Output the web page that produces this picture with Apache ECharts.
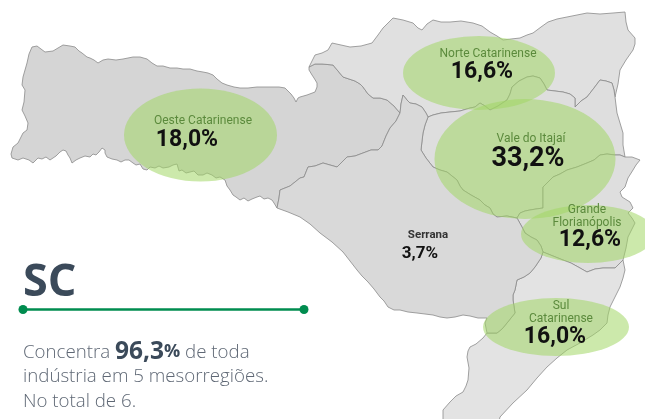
<!DOCTYPE html>
<html><head><meta charset="utf-8">
<style>html,body{margin:0;padding:0;background:#fff}#c{width:645px;height:419px}</style>
<script src="https://cdn.jsdelivr.net/npm/echarts@6/dist/echarts.min.js"></script>
</head><body><div id="c"></div>
<script>
// Data
const regionNames = ['Oeste Catarinense','Norte Catarinense','Vale do Itajaí','Grande\nFlorianópolis','Sul\nCatarinense','Serrana'];
const shareLabels = ['18,0%','16,6%','33,2%','12,6%','16,0%','3,7%'];

// Map geometry (boundaries shared between regions), in map units
const oesteTop = [[32,47],[37,46],[41,49],[45,52],[53,51],[58,48],[63,45],[70,46],[75,47],[79,51],[82,53],[87,57],[90,58],[94,60],[98,63],[103,60],[108,59],[116,60],[123,59],[128,58],[133,57],[140,57],[147,59],[152,63],[157,66],[163,66],[170,68],[177,68],[183,69],[190,69],[197,71],[203,72],[208,73],[213,75],[217,79],[222,83],[227,85],[234,87],[240,88],[248,88],[257,87],[265,87],[272,87],[279,87],[285,88],[288,91],[291,94],[294,98],[296,102],[298,98],[300,97],[307,95],[315,92],[317,87],[317,83],[314,78],[312,75],[309,70],[309,67]];
const oesteSouth = [[277,208],[274,203],[272,200],[268,198],[264,199],[260,196],[257,197],[252,199],[248,201],[244,198],[240,200],[236,197],[233,195],[230,190],[227,186],[225,180],[220,177],[216,178],[212,175],[207,173],[203,175],[198,175],[194,171],[190,172],[186,173],[182,170],[179,171],[177,164],[173,165],[169,167],[163,168],[159,166],[155,168],[150,167],[147,170],[143,169],[140,164],[136,165],[133,163],[129,160],[125,160],[121,162],[117,160],[112,159],[107,157],[105,153],[105,150],[102,148],[99,152],[96,155],[93,154],[90,157],[85,156],[80,158],[76,160],[72,163],[70,158],[68,155],[66,151],[63,150],[60,152],[56,156],[53,158],[50,160],[46,157],[42,159],[38,158],[33,163],[29,160],[23,158],[18,160],[12,158],[11,154],[13,147],[18,143],[23,133],[27,130],[28,123],[25,116],[22,110],[24,102],[25,90],[22,85],[23,77],[25,70],[27,63],[29,54]];
const oesteEast = [[277,208],[279,198],[280,190],[290,186],[300,178],[304,177],[308,167],[315,166],[323,163],[330,165],[337,167],[342,162],[347,157],[355,156],[363,153],[371,150],[378,150],[382,146],[386,136],[390,128],[396,121],[400,113]];
const norteWest = [[309,67],[315,64],[322,64],[333,65],[338,71],[343,77],[349,79],[355,81],[360,84],[363,87],[368,94],[373,98],[380,98],[387,100],[394,106],[400,113]];
const norteNotch = [[400,113],[401,104],[403,95],[407,100],[410,103],[416,104],[422,107],[426,113],[428,117]];
const norteTop = [[309,67],[312,61],[315,55],[322,53],[328,50],[332,43],[341,45],[350,47],[361,46],[372,43],[378,35],[383,28],[393,18],[403,20],[413,23],[418,28],[422,30],[427,24],[433,20],[441,22],[450,22],[461,21],[473,23],[482,26],[490,32],[497,36],[503,40],[511,39],[520,38],[527,35],[533,33],[541,27],[548,22],[557,19],[567,17],[577,15],[587,13],[600,14],[613,13],[625,12],[626,22],[628,30],[635,38],[635,44],[633,50],[626,60],[620,70],[618,84],[615,97]];
const norteSouth = [[428,117],[433,115],[441,113],[450,112],[460,111],[470,108],[475,107],[480,103],[485,106],[490,110],[498,106],[507,100],[510,94],[512,87],[519,81],[527,77],[533,76],[540,78],[544,84],[547,90],[555,91],[563,92],[570,94],[575,98],[575,107],[581,101],[587,97],[594,88],[600,80],[606,81],[612,83],[614,90],[615,97]];
const valeCoast = [[615,97],[616,105],[617,113],[620,123],[623,133],[623,145],[625,157]];
const valeWest = [[428,117],[425,125],[423,133],[422,141],[421,150],[426,158],[433,167],[440,170],[447,172],[452,176],[457,180],[460,186],[463,190],[471,195],[480,200],[485,205],[490,208],[493,214],[497,217],[507,216],[517,218]];
const valeSouth = [[517,218],[520,213],[525,211],[530,210],[536,209],[543,208],[543,197],[543,187],[548,182],[553,177],[560,174],[567,170],[577,167],[587,163],[594,160],[600,155],[607,154],[615,155],[620,155],[625,157]];
const grandeCoast = [[625,157],[632,157],[640,160],[636,165],[633,170],[628,178],[625,187],[620,192],[622,197],[630,202],[633,208],[628,213],[632,218],[635,223],[631,231],[628,237],[626,248],[623,260]];
const grandeWest = [[517,218],[522,227],[525,233],[531,237],[537,240],[541,246],[543,252]];
const grandeSouth = [[543,252],[553,256],[563,260],[571,263],[580,268],[587,272],[595,269],[603,268],[615,268],[623,260]];
const sulWest = [[543,252],[541,258],[535,267],[530,273],[524,277],[517,280],[516,285],[515,290],[513,295],[513,300],[515,313],[511,318],[507,323],[502,329],[497,333],[487,333],[485,323],[487,318]];
const sulBottom = [[487,333],[483,338],[476,344],[470,347],[468,351],[467,357],[469,368],[468,380],[466,386],[463,392],[456,396],[450,402],[443,410],[443,430],[497,430],[500,417],[513,403],[527,390],[537,378],[547,367],[557,358],[567,350],[580,343],[593,335],[600,330],[607,323],[608,315],[610,307],[615,297],[620,287],[623,278],[625,270],[623,260]];
const serranaSouth = [[487,318],[478,318],[470,316],[463,315],[455,317],[447,318],[440,317],[433,315],[425,314],[417,313],[408,312],[400,310],[394,310],[388,307],[384,301],[380,297],[374,289],[368,282],[362,276],[357,270],[350,261],[343,252],[332,242],[320,233],[310,224],[300,217],[288,212],[277,208]];

const rev = a => a.slice().reverse();
const poly = (...parts) => parts.flat();
const outlines = {
  'Oeste Catarinense': poly(oesteTop, norteWest, rev(oesteEast), oesteSouth),
  'Norte Catarinense': poly(norteTop, rev(norteSouth), rev(norteNotch), rev(norteWest)),
  'Vale do Itajaí': poly(norteSouth, valeCoast, rev(valeSouth), rev(valeWest)),
  'Grande Florianópolis': poly(valeSouth, grandeCoast, rev(grandeSouth), rev(grandeWest)),
  'Sul Catarinense': poly(grandeSouth, rev(sulBottom), rev(sulWest.slice(0,16))),
  'Serrana': poly(oesteEast, norteNotch, valeWest, grandeWest, sulWest, serranaSouth)
};
const regionFill = {'Oeste Catarinense':'#d5d5d5','Norte Catarinense':'#e0e0e0','Vale do Itajaí':'#dedede','Grande Florianópolis':'#dedede','Sul Catarinense':'#e3e3e3','Serrana':'#d9d9d9'};

const flip = p => [p[0], -p[1]];
echarts.registerMap('sc', {type:'FeatureCollection', features:Object.keys(outlines).map(n => ({
  type:'Feature', properties:{name:n},
  geometry:{type:'Polygon', coordinates:[outlines[n].map(flip)]}
}))});

// Ellipse centres and sizes per region
const ellipseCentres = [[200.5,135],[479,73],[525,159],[588,234],[556,327]];
const ellipseSizes = [[153,93],[152,74],[181,120],[134,58],[146,58]];
const nameAnchors = [[203,121],[488,54],[531,139],[587,216],[561,312],[428,235]];
const shareAnchors = [[187,140],[482,72],[528,159],[590,240],[555,337],[420,254]];
const nameFont = [12,12,12,12,12,11.5];
const shareFont = [23,23,27,23,23,17];

const chart = echarts.init(document.getElementById('c'), null, {renderer:'canvas'});
chart.setOption({
  animation:false,
  backgroundColor:'#fff',
  title:[
    {text:'SC', left:23, top:257, padding:0, textStyle:{fontFamily:'Open Sans', fontWeight:700, fontSize:45, color:'#3b4a5a', lineHeight:52}},
    {text:'{t|Concentra }{b|96,3}{p|%}{t| de toda}\n{t|indústria em 5 mesorregiões.}\n{t|No total de 6.}', left:23, top:340, padding:0,
      textStyle:{lineHeight:24.5, rich:{
        t:{fontFamily:'Open Sans', fontWeight:300, fontSize:18.7, color:'#5f6875', lineHeight:24.5},
        b:{fontFamily:'Open Sans', fontWeight:700, fontSize:24.5, color:'#3b4a5a', lineHeight:24.5},
        p:{fontFamily:'Open Sans', fontWeight:700, fontSize:18, color:'#3b4a5a', lineHeight:24.5}
      }}}
  ],
  geo:{
    map:'sc', roam:false, silent:true, aspectScale:1,
    left:0, top:0, right:0, bottom:0,
    boundingCoords:[[0,0],[645,-419]],
    label:{show:false},
    itemStyle:{areaColor:'#dcdcdc', borderColor:'#8a8a8a', borderWidth:0.8},
    regions:Object.keys(regionFill).map(n => ({name:n, itemStyle:{areaColor:regionFill[n]}}))
  },
  graphic:[
    {type:'line', shape:{x1:23,y1:309.5,x2:304,y2:309.5}, style:{stroke:'#008c4f', lineWidth:2.5}, z:10},
    {type:'circle', shape:{cx:23,cy:309.5,r:4.5}, style:{fill:'#008c4f'}, z:10},
    {type:'circle', shape:{cx:304,cy:309.5,r:4.5}, style:{fill:'#008c4f'}, z:10}
  ],
  series:[
    {type:'scatter', coordinateSystem:'geo', silent:true, z:3, symbol:'circle',
      data:ellipseCentres.map((c,i) => ({value:flip(c), symbolSize:ellipseSizes[i]})),
      itemStyle:{color:'rgba(160,214,100,0.68)'}},
    {type:'scatter', coordinateSystem:'geo', silent:true, z:4, symbolSize:1,
      itemStyle:{color:'transparent'},
      data:nameAnchors.map((c,i) => ({value:flip(c), name:regionNames[i],
        label:{show:true, position:'inside', formatter:'{b}', fontFamily:'Roboto', fontSize:nameFont[i], lineHeight:13,
          fontWeight:i===5?700:400, color:i===5?'#333':'#5b8a3c', opacity:1, align:'center', verticalAlign:'middle'}}))},
    {type:'scatter', coordinateSystem:'geo', silent:true, z:5, symbolSize:1,
      itemStyle:{color:'transparent'},
      data:shareAnchors.map((c,i) => ({value:flip(c), name:shareLabels[i],
        label:{show:true, position:'inside', formatter:'{b}', fontFamily:'Roboto', fontSize:shareFont[i], fontWeight:700,
          color:'#111', opacity:1, align:'center', verticalAlign:'middle'}}))}
  ]
});
</script></body></html>
